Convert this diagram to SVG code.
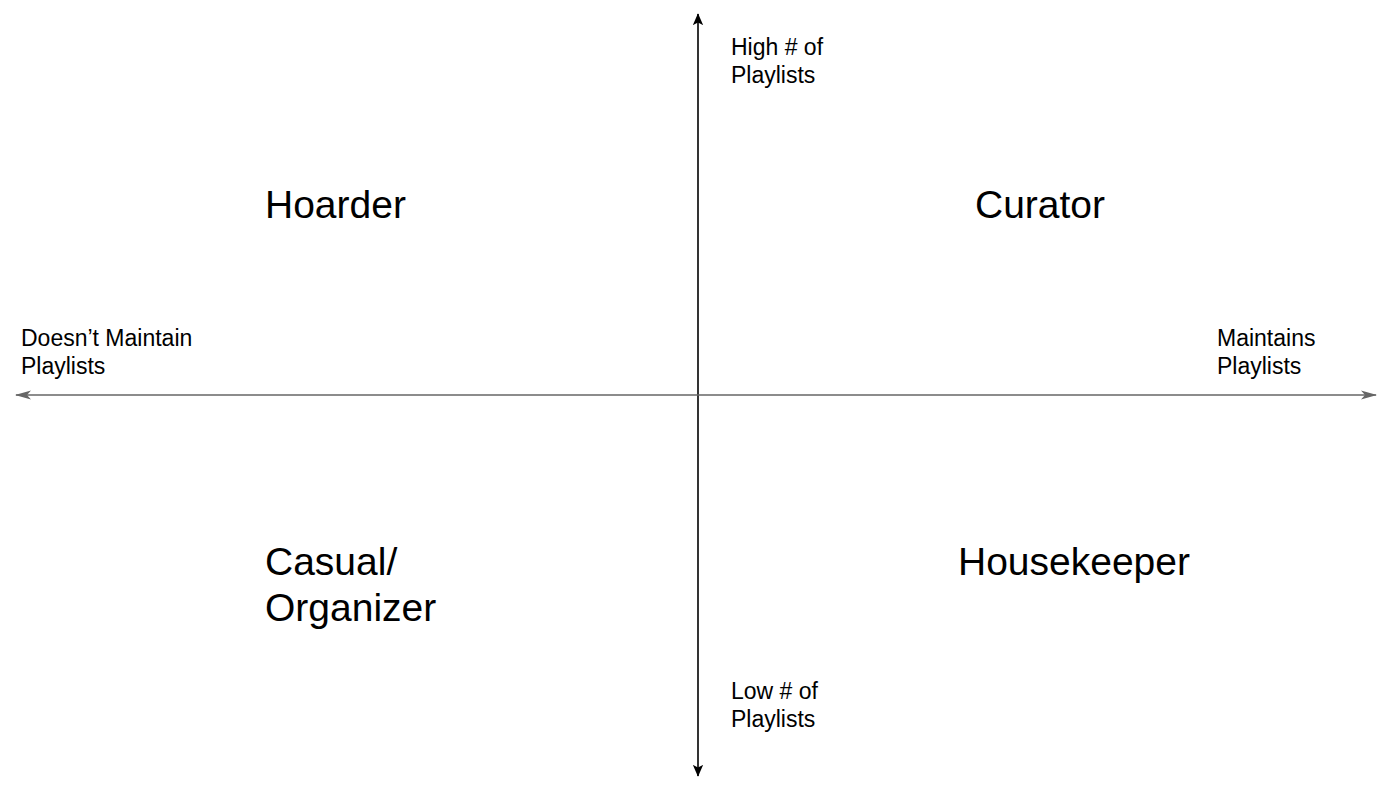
<svg xmlns="http://www.w3.org/2000/svg" width="1392" height="804" viewBox="0 0 1392 804">
<style>
.s{font-family:"Liberation Sans",Arial,sans-serif;font-size:23px;fill:#000}
.b{font-family:"Liberation Sans",Arial,sans-serif;font-size:39px;fill:#000}
</style>
<defs>
<marker id="ak" markerWidth="12" markerHeight="14" refX="13" refY="6" orient="auto" markerUnits="userSpaceOnUse" viewBox="0 0 14 12"><path d="M0,0 L14,6 L0,12 L3,6 Z" fill="#000"/></marker>
<marker id="ag" markerWidth="16" markerHeight="10" refX="15" refY="5" orient="auto" markerUnits="userSpaceOnUse"><path d="M0,0.5 L16,5 L0,9.5 L4,5 Z" fill="#666"/></marker>
</defs>
<rect width="1392" height="804" fill="#fff"/>
<g id="connectors">
<line x1="698" y1="395" x2="698" y2="14" stroke="#000" stroke-width="1.6" marker-end="url(#ak)"/>
<line x1="698" y1="395" x2="698" y2="776" stroke="#000" stroke-width="1.6" marker-end="url(#ak)"/>
<line x1="698" y1="395" x2="16" y2="395" stroke="#666" stroke-width="1.6" marker-end="url(#ag)"/>
<line x1="698" y1="395" x2="1376" y2="395" stroke="#666" stroke-width="1.6" marker-end="url(#ag)"/>
</g>
<g id="label-top"><text class="s" x="731" y="55">High # of</text><text class="s" x="731" y="83">Playlists</text></g>
<g id="label-bottom"><text class="s" x="731" y="699">Low # of</text><text class="s" x="731" y="727">Playlists</text></g>
<g id="label-left"><text class="s" x="21" y="346">Doesn’t Maintain</text><text class="s" x="21" y="374">Playlists</text></g>
<g id="label-right"><text class="s" x="1217" y="346">Maintains</text><text class="s" x="1217" y="374">Playlists</text></g>
<g id="hoarder"><text class="b" x="265" y="218">Hoarder</text></g>
<g id="curator"><text class="b" x="975" y="218">Curator</text></g>
<g id="casual"><text class="b" x="265" y="575">Casual/</text><text class="b" x="265" y="621">Organizer</text></g>
<g id="housekeeper"><text class="b" x="958" y="575">Housekeeper</text></g>
</svg>
